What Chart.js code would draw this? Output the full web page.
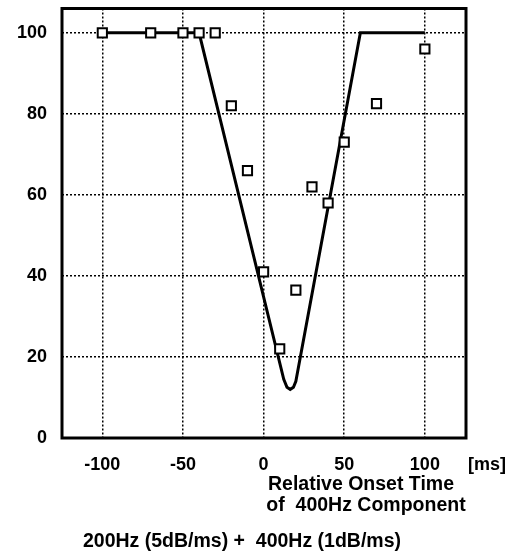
<!DOCTYPE html>
<html>
<head>
<meta charset="utf-8">
<script src="https://cdn.jsdelivr.net/npm/chart.js@4"></script>
<style>
    html, body { margin: 0; padding: 0; background: #fff; }
    canvas { display: block; }
</style>
</head>
<body>
<canvas id="chart" width="529" height="558"></canvas>
<script>
// measured points (squares)
const onsetTimes = [-100, -70, -50, -40, -30, -20, -10, 0, 10, 20, 30, 40, 50, 70, 100];
const scores = [100, 100, 100, 100, 100, 82, 66, 41, 22, 36.5, 62, 58, 73, 82.5, 96];

// model curve (solid line)
const curveX = [-100, -40, 12.5, 14.5, 16.5, 18.5, 20, 60, 100];
const curveY = [100, 100, 14.5, 12.5, 12, 12.5, 14, 100, 100];

const xTicks = [-100, -50, 0, 50, 100];
const yTicks = [0, 20, 40, 60, 80, 100];

const fontFamily = "'Liberation Sans', Arial, Helvetica, sans-serif";

// frame + extra text outside the axes
const framePlugin = {
    id: 'frame',
    afterDatasetsDraw(chart) {
        const { ctx, chartArea } = chart;
        ctx.save();
        ctx.strokeStyle = '#000';
        ctx.lineWidth = 3;
        ctx.strokeRect(chartArea.left, chartArea.top, chartArea.right - chartArea.left, chartArea.bottom - chartArea.top);
        ctx.restore();
    },
    afterDraw(chart) {
        const { ctx } = chart;
        ctx.save();
        ctx.fillStyle = '#000';
        ctx.textBaseline = 'middle';
        ctx.textAlign = 'left';
        ctx.font = 'bold 18px ' + fontFamily;
        ctx.fillText('[ms]', 468, 465);
        ctx.textAlign = 'center';
        ctx.font = 'bold 19.5px ' + fontFamily;
        ctx.fillText('Relative Onset Time', 361, 485);
        ctx.fillText('of  400Hz Component', 366, 506);
        ctx.fillText('200Hz (5dB/ms) +  400Hz (1dB/ms)', 242, 542);
        ctx.restore();
    }
};

function noPad(scale) {
    scale.paddingTop = 0;
    scale.paddingBottom = 0;
    scale.paddingLeft = 0;
    scale.paddingRight = 0;
}

const ctx = document.getElementById('chart');
new Chart(ctx, {
    type: 'scatter',
    data: {
        datasets: [{
            label: 'scores',
            data: onsetTimes.map((x, i) => ({ x: x, y: scores[i] })),
            pointStyle: 'rect',
            pointRadius: 6.5,
            pointBorderWidth: 2,
            pointBorderColor: '#000',
            pointBackgroundColor: '#fff',
            showLine: false,
            order: 0
        }, {
            label: 'model',
            data: curveX.map((x, i) => ({ x: x, y: curveY[i] })),
            showLine: true,
            borderColor: '#000',
            borderWidth: 3,
            pointRadius: 0,
            tension: 0,
            order: 1
        }]
    },
    options: {
        responsive: false,
        animation: false,
        layout: {
            padding: { left: 0, right: 63, top: 8, bottom: 70 }
        },
        plugins: {
            legend: { display: false },
            tooltip: { enabled: false }
        },
        scales: {
            x: {
                type: 'linear',
                min: -125,
                max: 125.5,
                afterBuildTicks: (scale) => { scale.ticks = xTicks.map(v => ({ value: v })); },
                afterFit: (scale) => { scale.height = 50; noPad(scale); },
                grid: { color: '#000', lineWidth: 1.5, drawTicks: false },
                border: { display: false, dash: [2, 2] },
                ticks: {
                    color: '#000',
                    padding: 16,
                    maxRotation: 0,
                    font: { family: fontFamily, size: 18, weight: 'bold' }
                }
            },
            y: {
                min: 0,
                max: 106,
                afterBuildTicks: (scale) => { scale.ticks = yTicks.map(v => ({ value: v })); },
                afterFit: (scale) => { scale.width = 62; noPad(scale); },
                grid: { color: '#000', lineWidth: 1.5, drawTicks: false },
                border: { display: false, dash: [2, 2] },
                ticks: {
                    color: '#000',
                    padding: 15,
                    font: { family: fontFamily, size: 18, weight: 'bold' }
                }
            }
        }
    },
    plugins: [framePlugin]
});
</script>
</body>
</html>
